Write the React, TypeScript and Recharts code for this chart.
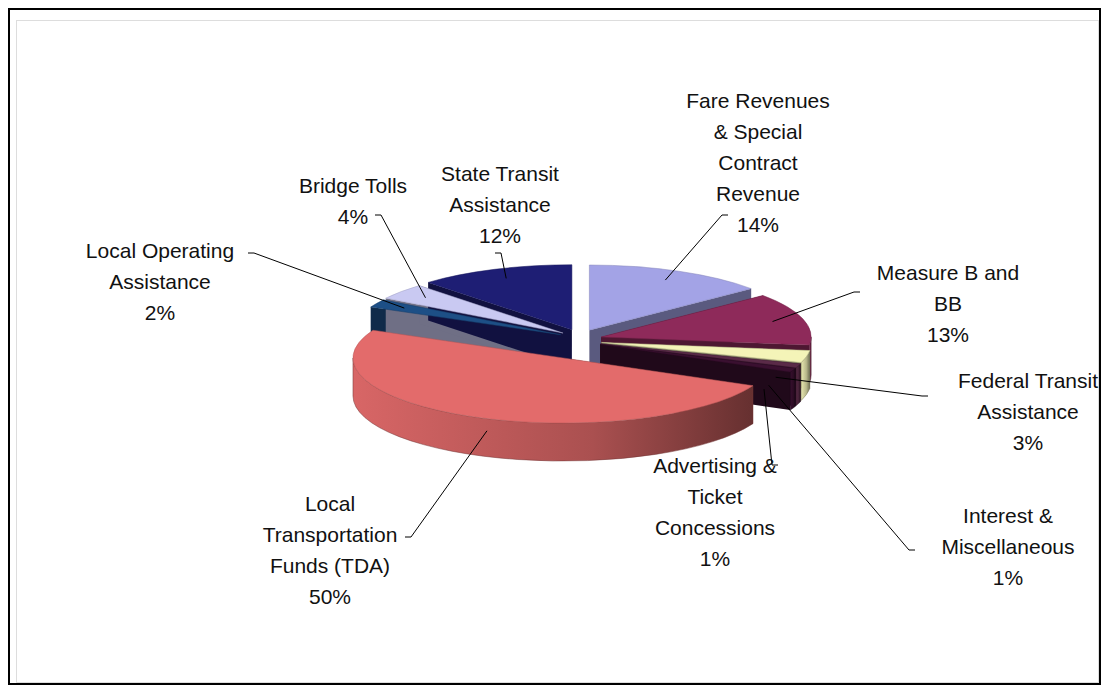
import React from "react";
import { PieChart, Pie } from "recharts";

const NAMES = [
  "Fare Revenues & Special Contract Revenue",
  "Measure B and BB",
  "Federal Transit Assistance",
  "Interest & Miscellaneous",
  "Advertising & Ticket Concessions",
  "Local Transportation Funds (TDA)",
  "Local Operating Assistance",
  "Bridge Tolls",
  "State Transit Assistance",
];
const VALUES = [14, 13, 3, 1, 1, 50, 2, 4, 12];
const COLORS = ["#a3a3e6", "#8e2a5a", "#f4f4b8", "#5a2a48", "#3a1030", "#e36b6b", "#1d4f86", "#c9c9f2", "#1e1e74"];
const LABEL_LINES = [
  ["Fare Revenues", "& Special", "Contract", "Revenue", "14%"],
  ["Measure B and", "BB", "13%"],
  ["Federal Transit", "Assistance", "3%"],
  ["Interest &", "Miscellaneous", "1%"],
  ["Advertising &", "Ticket", "Concessions", "1%"],
  ["Local", "Transportation", "Funds (TDA)", "50%"],
  ["Local Operating", "Assistance", "2%"],
  ["Bridge Tolls", "4%"],
  ["State Transit", "Assistance", "12%"],
];

// layout only: label centre (x, first baseline y) and leader start
const LABEL_POS = [
  { x: 748, y: 98, lx: 718, ly: 205 },
  { x: 938, y: 270, lx: 850, ly: 282 },
  { x: 1018, y: 378, lx: 918, ly: 386 },
  { x: 998, y: 513, lx: 905, ly: 540 },
  { x: 705, y: 463, lx: 768, ly: 455 },
  { x: 320, y: 501, lx: 395, ly: 527 },
  { x: 150, y: 248, lx: 238, ly: 243 },
  { x: 343, y: 183, lx: 365, ly: 205 },
  { x: 490, y: 171, lx: 485, ly: 243 },
];
const EXPLODE = [22, 22, 22, 22, 22, 40, 22, 22, 22];

const data = NAMES.map((n, i) => ({ name: n, value: VALUES[i], fill: COLORS[i], idx: i }));

const RY_RATIO = 0.31;
const DEPTH = 38;
const RAD = Math.PI / 180;

function shade(hex: string, f: number) {
  const n = parseInt(hex.slice(1), 16);
  const c = [(n >> 16) & 255, (n >> 8) & 255, n & 255].map((v) => Math.max(0, Math.min(255, Math.round(v * f))));
  return `rgb(${c[0]},${c[1]},${c[2]})`;
}

function geom(p: any) {
  const rx = p.outerRadius;
  const ry = rx * RY_RATIO;
  const e = EXPLODE[p.payload.idx];
  const m = p.midAngle * RAD;
  const ox = p.cx + e * Math.cos(m);
  const oy = p.cy - e * RY_RATIO * Math.sin(m) * 1.6;
  const pt = (a: number, d = 0) => [ox + rx * Math.cos(a * RAD), oy - ry * Math.sin(a * RAD) + d];
  return { rx, ry, ox, oy, pt };
}

function Top(p: any) {
  const { rx, ry, ox, oy, pt } = geom(p);
  const s = pt(p.startAngle);
  const e = pt(p.endAngle);
  const large = Math.abs(p.startAngle - p.endAngle) > 180 ? 1 : 0;
  const d = `M${ox},${oy}L${s[0]},${s[1]}A${rx},${ry} 0 ${large} 1 ${e[0]},${e[1]}Z`;
  return <path d={d} fill={p.payload.fill} stroke={shade(p.payload.fill, 0.8)} strokeWidth={0.5} />;
}

function Side(p: any) {
  const { rx, ry, ox, oy, pt } = geom(p);
  const hi = p.startAngle;
  const lo = p.endAngle;
  const fill = p.payload.fill;
  const parts: React.ReactNode[] = [];
  [hi, lo].forEach((a, k) => {
    const q = pt(a);
    parts.push(
      <path key={"r" + k} d={`M${ox},${oy}L${q[0]},${q[1]}L${q[0]},${q[1] + DEPTH}L${ox},${oy + DEPTH}Z`} fill={shade(fill, 0.55)} />
    );
  });
  for (let k = -2; k <= 1; k++) {
    const a = Math.max(lo, -180 + k * 360);
    const b = Math.min(hi, 0 + k * 360);
    if (b <= a) continue;
    const pb = pt(b), pa = pt(a);
    const large = b - a > 180 ? 1 : 0;
    const gid = `g${p.payload.idx}_${k}`;
    parts.push(
      <g key={"w" + k}>
        <defs>
          <linearGradient id={gid} x1="0" y1="0" x2="1" y2="0">
            <stop offset="0" stopColor={shade(fill, 0.95)} />
            <stop offset="0.6" stopColor={shade(fill, 0.75)} />
            <stop offset="1" stopColor={shade(fill, 0.45)} />
          </linearGradient>
        </defs>
        <path
          d={`M${pb[0]},${pb[1]}A${rx},${ry} 0 ${large} 1 ${pa[0]},${pa[1]}L${pa[0]},${pa[1] + DEPTH}A${rx},${ry} 0 ${large} 0 ${pb[0]},${pb[1] + DEPTH}Z`}
          fill={`url(#${gid})`}
          stroke={shade(fill, 0.5)}
          strokeWidth={0.5}
        />
      </g>
    );
  }
  return <g>{parts}</g>;
}

function Label(p: any) {
  const i = p.index;
  const pos = LABEL_POS[i];
  const { rx, ry, ox, oy } = geom({ ...p, payload: data[i] });
  const m = p.midAngle * RAD;
  const tx = ox + rx * 0.85 * Math.cos(m);
  const ty = oy - ry * 0.85 * Math.sin(m) + (Math.sin(m) < 0 ? DEPTH * 0.6 : 0);
  return (
    <g>
      <polyline points={`${pos.lx},${pos.ly} ${pos.lx + (pos.lx < tx ? 6 : -6)},${pos.ly} ${tx},${ty}`} fill="none" stroke="#000" strokeWidth={1} />
      <text x={pos.x} y={pos.y} textAnchor="middle" fontFamily="'Liberation Sans', Arial, sans-serif" fontSize={21} fill="#111">
        {LABEL_LINES[i].map((t, j) => (
          <tspan key={j} x={pos.x} dy={j === 0 ? 0 : 31}>{t}</tspan>
        ))}
      </text>
    </g>
  );
}

export default function App() {
  return (
    <div style={{ width: 1089, height: 673, border: "2px solid #000", background: "#fff", position: "relative" }}>
      <div style={{ position: "absolute", left: 6, top: 10, width: 1083, height: 663, border: "1px solid #ddd", boxSizing: "border-box" }} />
      <PieChart width={1089} height={673} style={{ position: "absolute", left: 0, top: 0 }}>
        <Pie data={data} dataKey="value" cx={565} cy={325} outerRadius={210} startAngle={90} endAngle={-270}
          shape={Side} activeShape={Side} isAnimationActive={false} stroke="none" />
        <Pie data={data} dataKey="value" cx={565} cy={325} outerRadius={210} startAngle={90} endAngle={-270}
          shape={Top} activeShape={Top} label={Label} labelLine={false} isAnimationActive={false} stroke="none" />
      </PieChart>
    </div>
  );
}
